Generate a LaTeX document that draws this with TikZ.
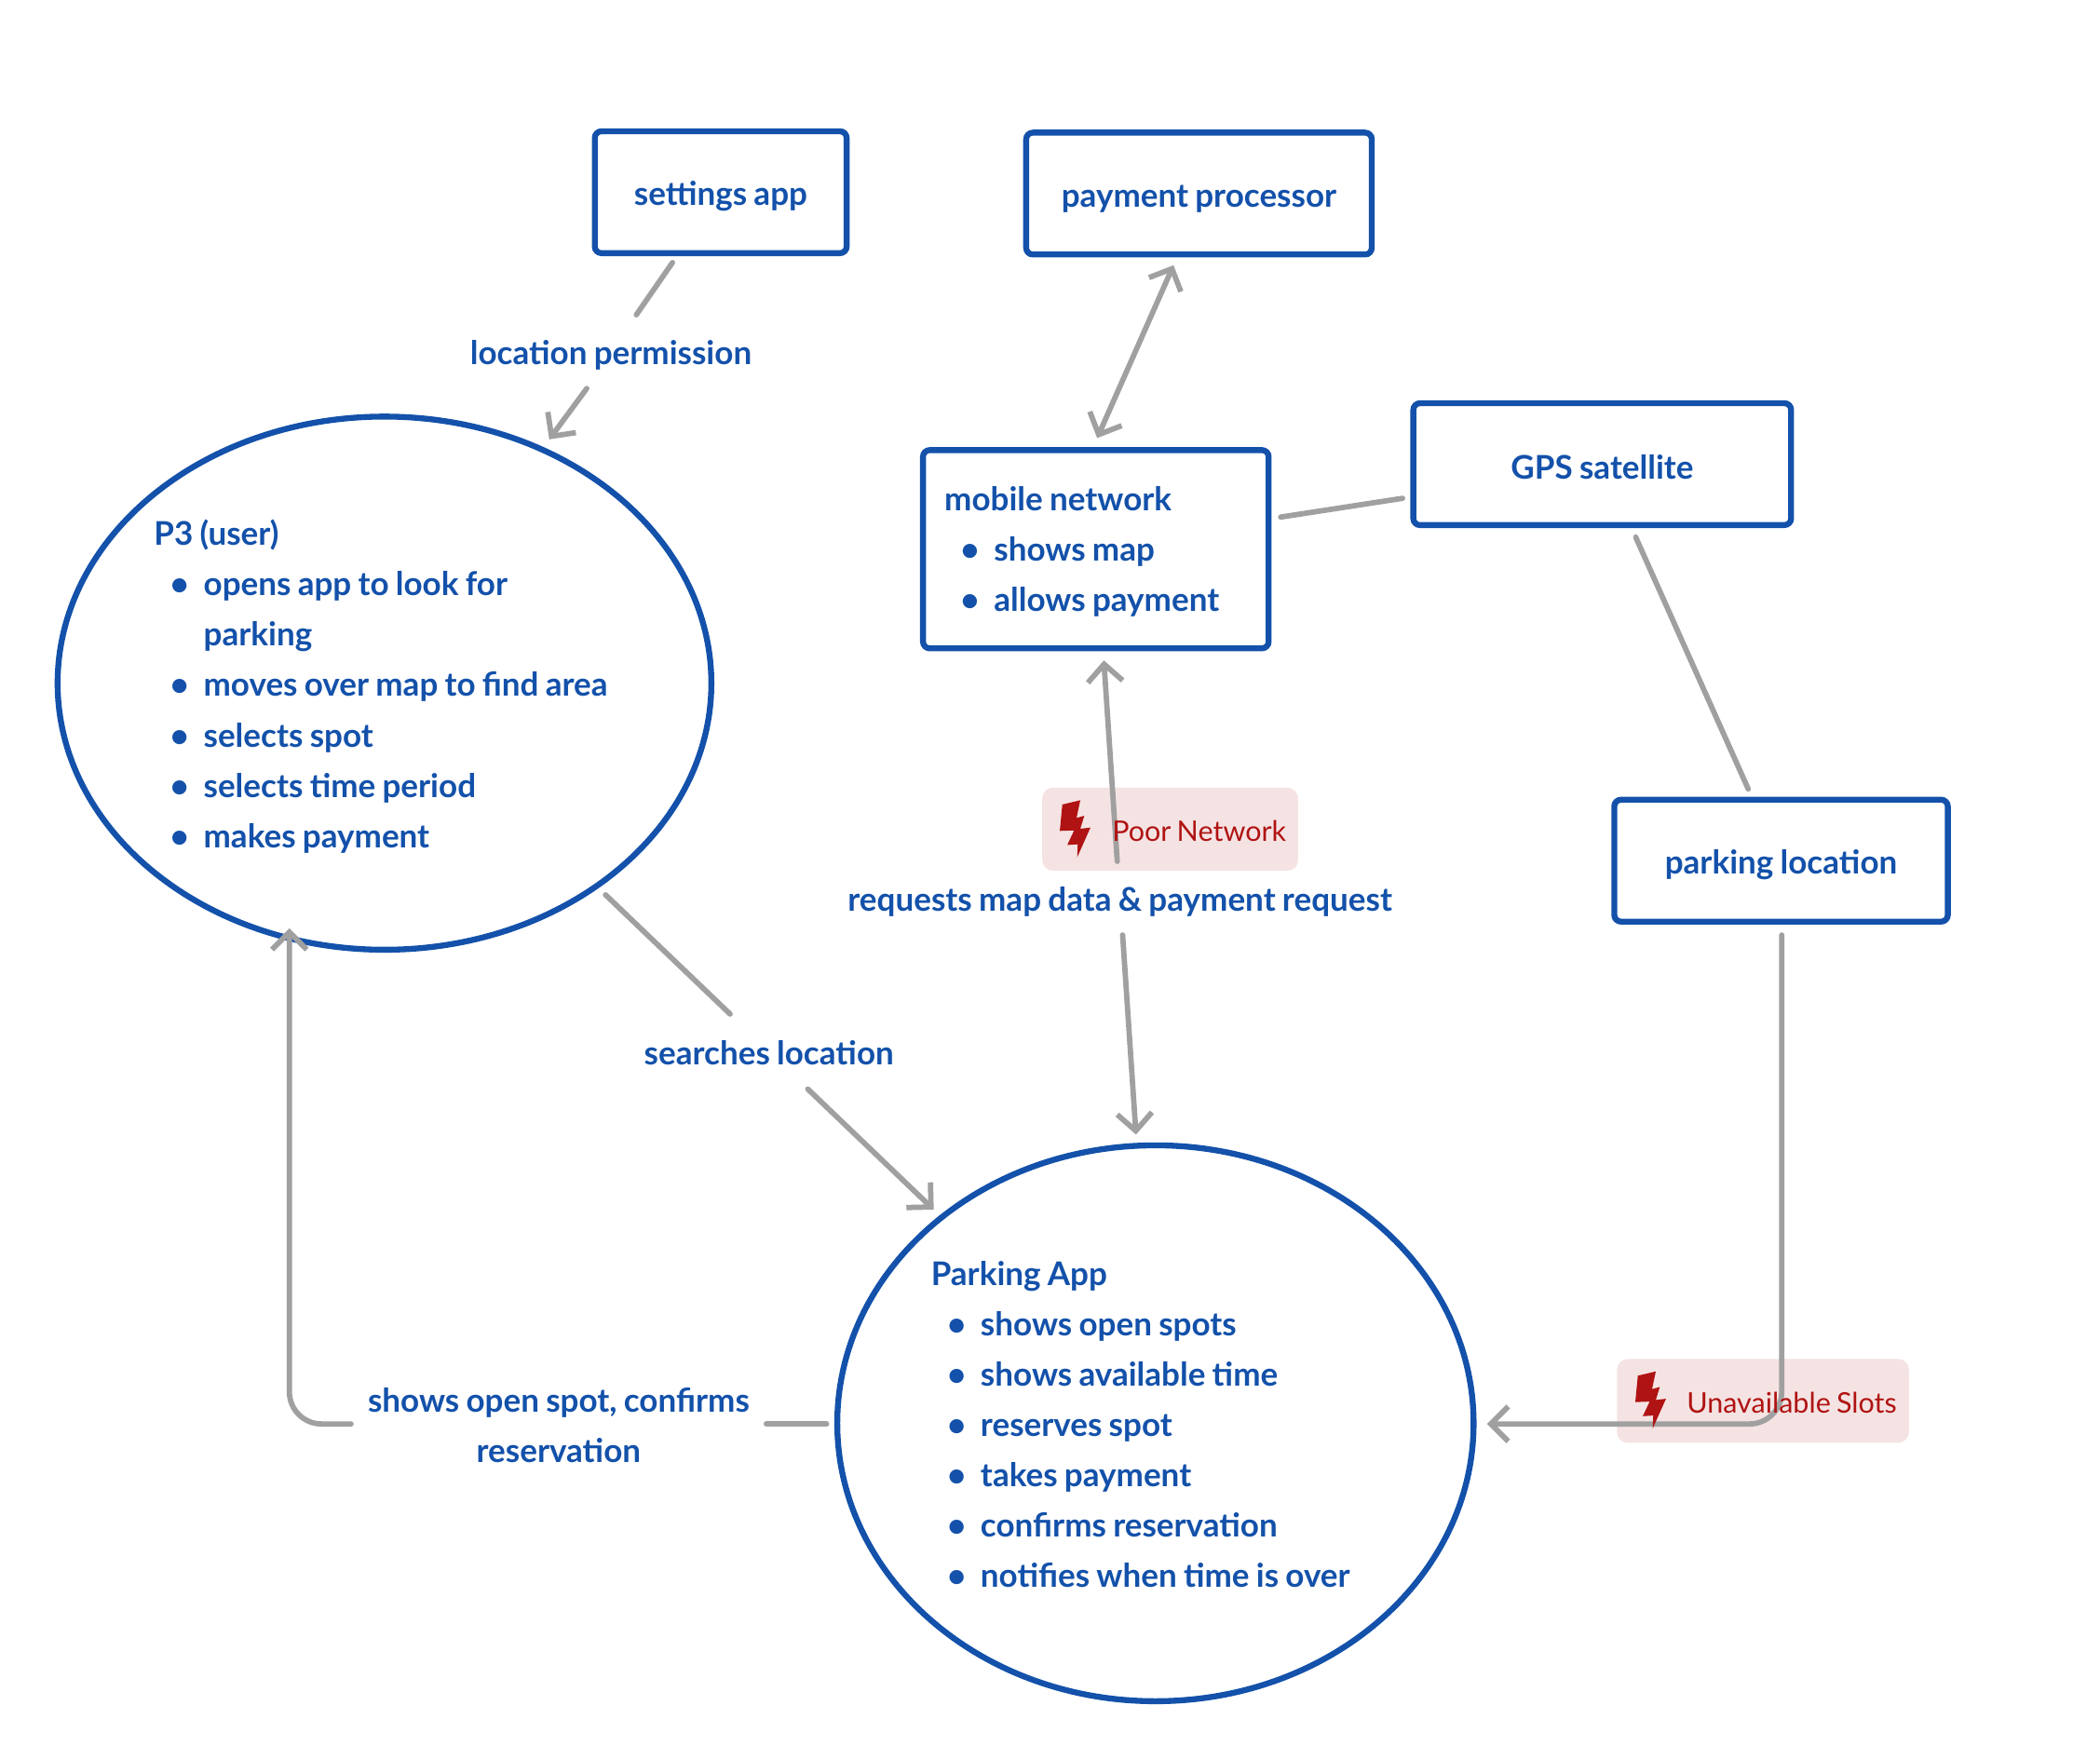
\documentclass[tikz,border=0pt]{standalone}
\usepackage{fontspec}
\setmainfont{Lato Bold}[WordSpace=0.85]
\newfontfamily\tagfont{Lato}[WordSpace=0.8]
\usetikzlibrary{arrows.meta,shapes.geometric}
\definecolor{inkblue}{HTML}{1351AA}
\definecolor{linegray}{HTML}{A0A0A0}
\definecolor{tagred}{HTML}{B01313}
\definecolor{tagpink}{HTML}{F5E3E3}
\newcommand{\bl}{\hspace*{12pt}\makebox[25pt][l]{\raisebox{0pt}{\textbullet}}}
\newcommand{\contline}{\hspace*{37pt}}
\newcommand{\tp}[1]{\rule{0pt}{#1pt}}
\newcommand{\boltshape}[2]{\fill[tagred,shift={(#1,#2)}] (1.9,3.2) -- (15.3,0) -- (12.5,13.2) -- (18.3,11.6) -- (15.3,21.3) -- (22.9,20.4) -- (13,42.6) -- (13.4,32.9) -- (5.6,33.4) -- (10.7,22.5) -- (0,22.9) -- cycle;}
\tikzset{
  basefont/.style={font=\fontsize{24.35}{37.6}\selectfont, text=inkblue},
  boxnode/.style={basefont, draw=inkblue, line width=4.4pt, rounded corners=5pt, inner sep=0pt, outer sep=0pt, align=center},
  ovalnode/.style={basefont, ellipse, draw=inkblue, line width=4.4pt, inner sep=0pt, outer sep=0pt, align=flush left},
  labelnode/.style={basefont, inner sep=0pt, align=center},
  tagbox/.style={fill=tagpink, rounded corners=8pt, inner sep=0pt},
  tagtext/.style={font=\tagfont\fontsize{21.2}{26}\selectfont, text=tagred, inner sep=0pt, anchor=west},
  conn/.style={draw=linegray, line width=4pt, line cap=round, line join=round},
  arrowend/.style={conn, -{Straight Barb[length=13pt,width=26pt,line width=4pt]}},
  bothends/.style={conn, {Straight Barb[length=13pt,width=26pt,line width=4pt]}-{Straight Barb[length=13pt,width=26pt,line width=4pt]}},
}
\begin{document}
\begin{tikzpicture}[x=1pt,y=-1pt]
\useasboundingbox (0,0) rectangle (1567.6,1302.8);
% nodes
\node[boxnode,minimum width=188pt,minimum height=91pt] (settings) at (538,143.5) {\tp{24}settings app};
\node[boxnode,minimum width=258pt,minimum height=91pt] (payment) at (895,144.5) {\tp{24}payment processor};
\node[boxnode,minimum width=258pt,minimum height=148pt,text width=226pt,align=flush left] (mobile) at (818,410) {\tp{22}mobile network\\\bl shows map\\\bl allows payment};
\node[boxnode,minimum width=282pt,minimum height=91pt] (gps) at (1196,346.5) {\tp{22}GPS satellite};
\node[boxnode,minimum width=249pt,minimum height=91pt] (parkloc) at (1329.5,642.5) {\tp{24}parking location};
\node[ovalnode,minimum width=488pt,minimum height=398pt,text width=344pt] (user) at (287,510) {\tp{24}P3 (user)\\\bl opens app to look for\\\contline parking\\\bl moves over map to find area\\\bl selects spot\\\bl selects time period\\\bl makes payment};
\node[ovalnode,minimum width=475pt,minimum height=415pt,text width=335pt] (app) at (862.5,1062.5) {\tp{20}Parking App\\\bl shows open spots\\\bl shows available time\\\bl reserves spot\\\bl takes payment\\\bl confirms reservation\\\bl notifies when time is over};
\node[labelnode] (lblperm) at (456,265) {location permission};
\node[labelnode] (lblsearch) at (574,786) {searches location};
\node[labelnode] (lblreq) at (836,673) {requests map data \& payment request};
\node[labelnode] (lblshow) at (417,1064) {shows open spot, confirms\\reservation};
% tag backgrounds
\node[tagbox,minimum width=191pt,minimum height=62pt] (poorbg) at (873.5,619) {};
\node[tagbox,minimum width=218pt,minimum height=62.5pt] (slotsbg) at (1316,1045.8) {};
% free ends
\coordinate (a1) at (502,196); \coordinate (a2) at (475,235);
\coordinate (b1) at (438,290); \coordinate (b2) at (410,328);
\coordinate (c1) at (876,198); \coordinate (c2) at (819,327);
\coordinate (d1) at (956,386); \coordinate (d2) at (1047,372);
\coordinate (e1) at (1221,401); \coordinate (e2) at (1305,589);
\coordinate (f1) at (834,643); \coordinate (f2) at (824,493);
\coordinate (g1) at (838,698); \coordinate (g2) at (848,847);
\coordinate (h1) at (452,668); \coordinate (h2) at (545,757);
\coordinate (i1) at (603,813); \coordinate (i2) at (697,903);
\coordinate (j1) at (617,1063); \coordinate (j2) at (572,1063);
\coordinate (k1) at (262,1063); \coordinate (k2) at (216,1063); \coordinate (k3) at (216,693);
\coordinate (l1) at (1330,698); \coordinate (l2) at (1330,1063); \coordinate (l3) at (1110,1063);
% connectors
\draw[conn] (a1) -- (a2);
\draw[arrowend] (b1) -- (b2);
\draw[bothends] (c1) -- (c2);
\draw[conn] (d1) -- (d2);
\draw[conn] (e1) -- (e2);
\draw[arrowend] (f1) -- (f2);
\draw[arrowend] (g1) -- (g2);
\draw[conn] (h1) -- (h2);
\draw[arrowend] (i1) -- (i2);
\draw[conn] (j1) -- (j2);
\draw[arrowend,rounded corners=24pt] (k1) -- (k2) -- (k3);
\draw[arrowend,rounded corners=24pt] (l1) -- (l2) -- (l3);
% tag contents
\boltshape{791.1}{597.4}
\boltshape{1220.7}{1023.8}
\node[tagtext] (poortxt) at (830,620.5) {Poor Network};
\node[tagtext] (slotstxt) at (1259,1047) {Unavailable Slots};
\end{tikzpicture}
\end{document}
